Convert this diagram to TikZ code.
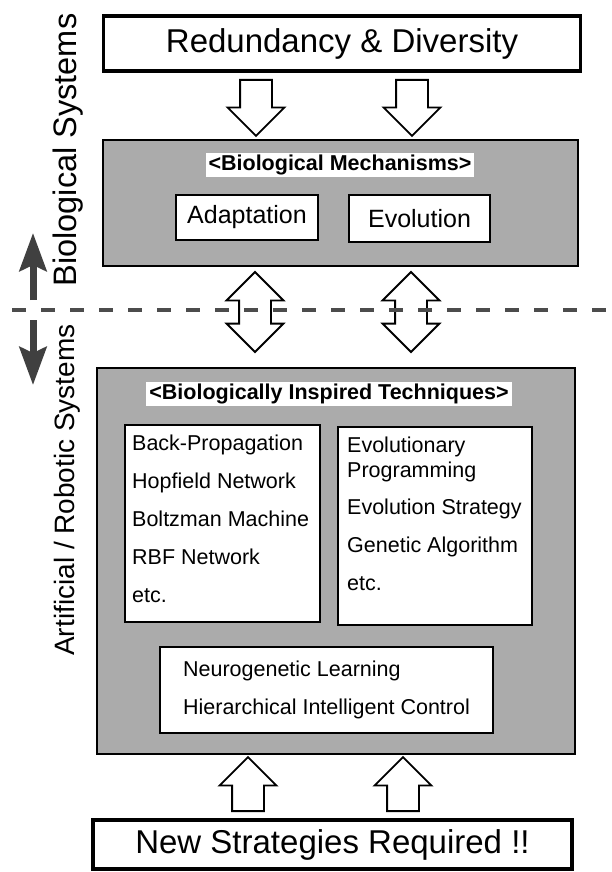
\documentclass[tikz,border=0pt]{standalone}
\usepackage{fontspec}
\setmainfont{Liberation Sans}
\usepackage{tikz}
\usetikzlibrary{shapes.arrows,arrows.meta}

\begin{document}
\begin{tikzpicture}[x=1pt,y=-1pt,
  banner/.style={draw, line width=3.5pt, minimum width=477pt, font=\fontsize{33}{36}\selectfont},
  panel/.style={draw, line width=1.8pt, fill=black!33},
  tag/.style={fill=white, inner xsep=3pt, inner ysep=2pt, font=\fontsize{21.5}{24}\selectfont\bfseries},
  cell/.style={draw, line width=1.8pt, fill=white},
  listing/.style={anchor=north west, align=left, inner sep=0pt, font=\fontsize{21.5}{25}\selectfont},
  hollow/.style={draw, line width=1.8pt, fill=white, single arrow, single arrow head extend=12.5pt, inner xsep=0pt, inner ysep=15pt, anchor=tail},
  hollowboth/.style={draw, line width=1.8pt, fill=white, double arrow, double arrow head extend=12.5pt, inner xsep=0pt, inner ysep=15pt, minimum height=80pt, rotate=90},
  side/.style={line width=7pt, draw=black!75, -{Stealth[length=38pt,width=27pt,inset=6pt]}},
  sidelabel/.style={rotate=90}
  ]
  \useasboundingbox (0,0) rectangle (612,872);

  % what comes in and what goes out
  \node[banner, minimum height=55pt] (redund) at (342,43.5) {Redundancy \& Diversity};
  \node[banner, minimum height=49pt, minimum width=479pt] (strat) at (332.5,844.5) {New Strategies Required !!};

  % biological side
  \node[panel, minimum width=475pt, minimum height=126pt] (mech) at (340.5,203) {};
  \node[tag] (mechtag) at (340,165) {<Biological Mechanisms>};
  \node[cell, minimum width=142pt, minimum height=45pt, font=\fontsize{25}{28}\selectfont] (adapt) at (247,217.5) {Adaptation};
  \node[cell, minimum width=141pt, minimum height=47pt, font=\fontsize{25}{28}\selectfont] (evol) at (419.5,218.5) {Evolution};

  % artificial side
  \node[panel, minimum width=478pt, minimum height=386pt] (tech) at (336,561) {};
  \node[tag] (techtag) at (329,394) {<Biologically Inspired Techniques>};
  \node[cell, minimum width=195pt, minimum height=197pt] (nets) at (222.5,523.5) {};
  \node[listing] (netlist) at (132,435) {Back-Propagation\\[13pt]Hopfield Network\\[13pt]Boltzman Machine\\[13pt]RBF Network\\[13pt]etc.};
  \node[cell, minimum width=194pt, minimum height=198pt] (evos) at (435,526) {};
  \node[listing] (evolist) at (347,437) {Evolutionary\\Programming\\[12pt]Evolution Strategy\\[13pt]Genetic Algorithm\\[13pt]etc.};
  \node[cell, minimum width=333pt, minimum height=86pt, align=left, font=\fontsize{21.5}{25}\selectfont] (hybrid) at (326.5,690) {Neurogenetic Learning\\[13pt]Hierarchical Intelligent Control};

  % fat arrows between the layers
  \node[hollow, rotate=-90, minimum height=56pt] (inL) at (256,79) {};
  \node[hollow, rotate=-90, minimum height=56pt] (inR) at (412,79) {};
  \node[hollowboth] (linkL) at (255,312) {};
  \node[hollowboth] (linkR) at (411,312) {};
  \node[hollow, rotate=90, minimum height=54pt] (upL) at (248,812) {};
  \node[hollow, rotate=90, minimum height=54pt] (upR) at (403,812) {};

  % the border between the two worlds
  \coordinate (cutL) at (12,310);
  \coordinate (cutR) at (612,310);
  \draw[line width=4pt, black!70, dash pattern=on 14pt off 15pt] (cutL) -- (cutR);

  \coordinate (upfoot) at (33,300);
  \coordinate (uptip) at (33,233);
  \coordinate (downfoot) at (33,320);
  \coordinate (downtip) at (33,385);
  \draw[side] (upfoot) -- (uptip);
  \draw[side] (downfoot) -- (downtip);

  \node[sidelabel, font=\fontsize{32.5}{35}\selectfont] (biosys) at (68,150) {Biological Systems};
  \node[sidelabel, font=\fontsize{28}{31}\selectfont] (artsys) at (67,490) {Artificial / Robotic Systems};

\end{tikzpicture}
\end{document}
